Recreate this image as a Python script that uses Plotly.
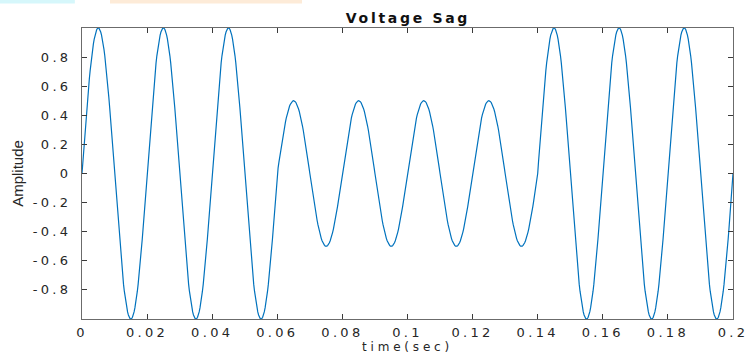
import numpy as np
import plotly.graph_objects as go

# Signal description (50 Hz sine with a sag)
segment_start_sec = [0.00, 0.06, 0.14]
segment_end_sec = [0.06, 0.14, 0.20]
segment_amplitude = [1.0, 0.5, 1.0]
frequency_hz = 50
sample_rate_hz = 4000

x_tick_vals = [0, 0.02, 0.04, 0.06, 0.08, 0.1, 0.12, 0.14, 0.16, 0.18, 0.2]
x_tick_text = ["0", "0.02", "0.04", "0.06", "0.08", "0.1", "0.12", "0.14", "0.16", "0.18", "0.2"]
y_tick_vals = [-0.8, -0.6, -0.4, -0.2, 0, 0.2, 0.4, 0.6, 0.8]
y_tick_text = ["-0.8", "-0.6", "-0.4", "-0.2", "0", "0.2", "0.4", "0.6", "0.8"]

t = np.arange(0, segment_end_sec[-1] + 1e-12, 1.0 / sample_rate_hz)
amp = np.zeros_like(t)
for s, e, a in zip(segment_start_sec, segment_end_sec, segment_amplitude):
    amp[(t >= s) & (t <= e)] = a
v = amp * np.sin(2 * np.pi * frequency_hz * t)

fig = go.Figure()
fig.add_trace(go.Scatter(x=t, y=v, mode="lines",
                         line=dict(color="#0072BD", width=1.2),
                         hoverinfo="skip", showlegend=False))

tick_font = dict(family="DejaVu Sans, sans-serif", size=13, color="#262626")
axis_common = dict(showline=True, linecolor="#6b6b6b", linewidth=1,
                   mirror="ticks", ticks="inside", ticklen=5, tickcolor="#3a3a3a",
                   showgrid=False, zeroline=False, automargin=False,
                   tickfont=tick_font)

fig.update_xaxes(range=[0, 0.2], tickmode="array", tickvals=x_tick_vals,
                 ticktext=x_tick_text, ticklabelstandoff=1,
                 title=dict(text="time(sec)", standoff=3,
                            font=dict(family="DejaVu Sans, sans-serif", size=12, color="#262626")),
                 **axis_common)
fig.update_yaxes(range=[-1, 1], tickmode="array", tickvals=y_tick_vals,
                 ticktext=y_tick_text, ticklabelstandoff=7,
                 title=dict(text="Amplitude", standoff=18,
                            font=dict(family="Liberation Sans Narrow, Arial Narrow, Liberation Sans, sans-serif",
                                      size=15, color="#262626")),
                 **axis_common)

fig.update_layout(
    width=745, height=356,
    margin=dict(l=82, r=12, t=28, b=37, autoexpand=False),
    paper_bgcolor="white", plot_bgcolor="white",
    title=dict(text="<b>Voltage Sag</b>", x=0.5476, xanchor="center",
               y=0.949, yanchor="middle",
               font=dict(family="DejaVu Sans, sans-serif", size=14, color="#111111")),
    shapes=[
        dict(type="rect", xref="paper", yref="paper", x0=-0.126, x1=-0.011,
             y0=1.084, y1=1.0963, fillcolor="#d6f7fb", line=dict(width=0), layer="below"),
        dict(type="rect", xref="paper", yref="paper", x0=0.043, x1=0.338,
             y0=1.084, y1=1.0963, fillcolor="#fdebd8", line=dict(width=0), layer="below"),
    ],
)

post = """
document.body.style.margin='0';
document.querySelectorAll('.xtick text, .ytick text').forEach(function(t){t.style.letterSpacing='3.3px';});
document.querySelectorAll('.gtitle').forEach(function(t){t.style.letterSpacing='2.7px';});
document.querySelectorAll('.xtitle').forEach(function(t){t.style.letterSpacing='3.8px';});
"""
fig.write_html("out.html", post_script=post, config={"displayModeBar": False})
